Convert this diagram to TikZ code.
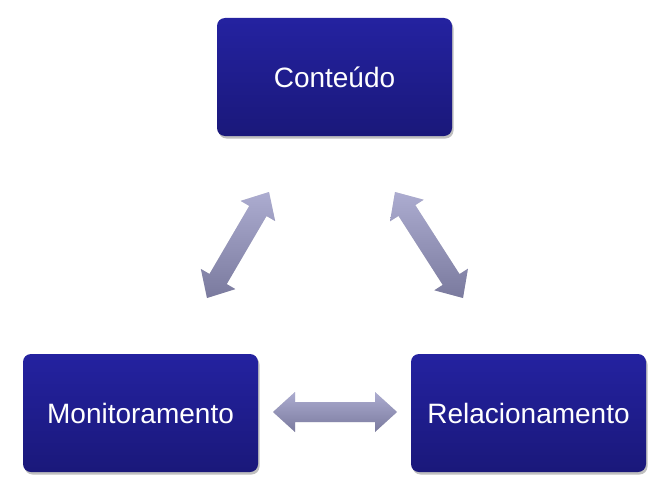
\documentclass[tikz,border=0pt]{standalone}
\usepackage{fontspec}
\setmainfont{Liberation Sans}
\usetikzlibrary{calc,shadows}
\definecolor{boxtop}{RGB}{36,34,160}
\definecolor{boxbot}{RGB}{26,24,122}
\definecolor{arrtop}{RGB}{172,172,208}
\definecolor{arrbot}{RGB}{122,122,158}
\tikzset{
  box/.style={rectangle, rounded corners=8pt, minimum width=235pt, minimum height=118pt,
    top color=boxtop, bottom color=boxbot, draw=none, text=white,
    font=\fontsize{28}{34}\selectfont,
    drop shadow={shadow xshift=1.5pt, shadow yshift=-2.5pt, fill=black, opacity=0.25}},
  arr/.style={top color=arrtop, bottom color=arrbot, draw=none},
  arrshadow/.style={fill=black, opacity=0.12, draw=none}
}
\newcommand\dblpath[2]{(#1) -- ($(#1)!22pt!(#2)!20pt!90:(#2)$) -- ($(#1)!22pt!(#2)!10pt!90:(#2)$)
  -- ($(#2)!22pt!(#1)!10pt!-90:(#1)$) -- ($(#2)!22pt!(#1)!20pt!-90:(#1)$) -- (#2)
  -- ($(#2)!22pt!(#1)!20pt!90:(#1)$) -- ($(#2)!22pt!(#1)!10pt!90:(#1)$)
  -- ($(#1)!22pt!(#2)!10pt!-90:(#2)$) -- ($(#1)!22pt!(#2)!20pt!-90:(#2)$) -- cycle}
\newcommand\dblarr[2]{%
  \begin{scope}[shift={(1.5,2.5)}]\fill[arrshadow] \dblpath{#1}{#2};\end{scope}
  \shade[arr] \dblpath{#1}{#2};}
\begin{document}
\begin{tikzpicture}[x=1pt,y=-1pt]
\useasboundingbox (0,0) rectangle (663,495);
\node[box] (cont) at (334.5,77) {Conteúdo};
\node[box] (mon) at (140.5,413) {Monitoramento};
\node[box] (rel) at (528.5,413) {Relacionamento};
\coordinate (la) at (207,298);
\coordinate (lb) at (269,192);
\coordinate (ra) at (395,192);
\coordinate (rb) at (463,298);
\coordinate (ha) at (273,412);
\coordinate (hb) at (397,412);
\dblarr{la}{lb}
\dblarr{ra}{rb}
\dblarr{ha}{hb}
\end{tikzpicture}
\end{document}
